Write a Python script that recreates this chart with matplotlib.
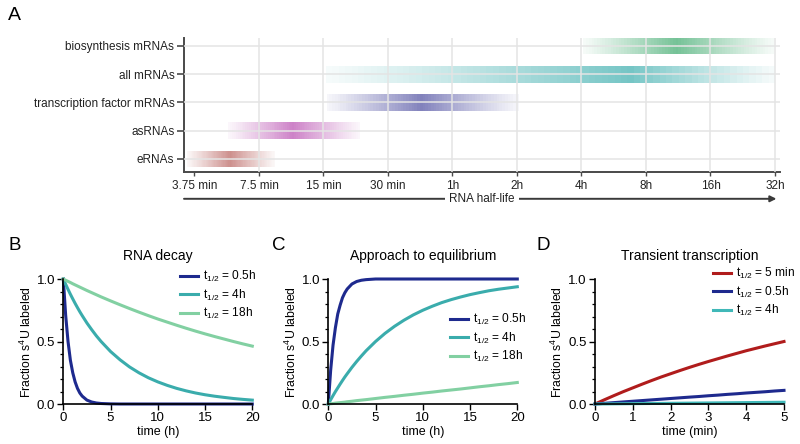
import matplotlib
matplotlib.use("Agg")
import matplotlib.pyplot as plt
import numpy as np
from matplotlib.colors import to_rgb

plt.rcParams['font.family'] = ['Liberation Sans', 'DejaVu Sans']
plt.rcParams['mathtext.fontset'] = 'custom'
plt.rcParams['mathtext.rm'] = 'Liberation Sans'
plt.rcParams['mathtext.it'] = 'Liberation Sans'

# ---------------- Panel A data ----------------
categories = ['eRNAs', 'asRNAs', 'transcription factor mRNAs', 'all mRNAs', 'biosynthesis mRNAs']
hl_start = [3.45, 5.4, 15.5, 15.4, 245]      # minutes
hl_peak = [5.5, 10.8, 43, 404, 668]
hl_end = [8.9, 22.2, 122, 1920, 1890]
band_colors = ['#b8605c', '#b84cb0', '#4c4ca0', '#3aadad', '#3aa86a']
tick_minutes = [3.75, 7.5, 15, 30, 60, 120, 240, 480, 960, 1920]
tick_labels = ['3.75 min', '7.5 min', '15 min', '30 min', '1h', '2h', '4h', '8h', '16h', '32h']

# ---------------- Panel B data ----------------
time_b = [0, 0.25, 0.5, 0.75, 1, 1.25, 1.5, 1.75, 2, 2.5, 3, 3.5, 4, 5, 6, 7, 8, 9, 10,
          11, 12, 13, 14, 15, 16, 17, 18, 19, 20]
decay_05h = [1.0, 0.71, 0.5, 0.35, 0.25, 0.177, 0.125, 0.088, 0.063, 0.031, 0.016, 0.008, 0.004,
             0.001, 0, 0, 0, 0, 0, 0, 0, 0, 0, 0, 0, 0, 0, 0, 0]
decay_4h = [1.0, 0.958, 0.917, 0.878, 0.841, 0.805, 0.771, 0.738, 0.707, 0.648, 0.595, 0.545, 0.5,
            0.42, 0.354, 0.297, 0.25, 0.21, 0.177, 0.149, 0.125, 0.105, 0.088, 0.074, 0.0625,
            0.053, 0.044, 0.037, 0.031]
decay_18h = [1.0, 0.99, 0.981, 0.972, 0.962, 0.953, 0.944, 0.935, 0.926, 0.908, 0.891, 0.874, 0.857,
             0.825, 0.794, 0.764, 0.735, 0.707, 0.68, 0.655, 0.63, 0.606, 0.583, 0.561, 0.54,
             0.52, 0.5, 0.481, 0.463]

# ---------------- Panel C data ----------------
time_c = time_b
eq_05h = [0, 0.27, 0.47, 0.61, 0.72, 0.79, 0.85, 0.89, 0.92, 0.96, 0.98, 0.99, 0.995,
          1, 1, 1, 1, 1, 1, 1, 1, 1, 1, 1, 1, 1, 1, 1, 1]
eq_4h = [0, 0.034, 0.067, 0.099, 0.129, 0.159, 0.188, 0.216, 0.242, 0.293, 0.34, 0.384, 0.426,
         0.5, 0.565, 0.621, 0.67, 0.713, 0.75, 0.782, 0.811, 0.835, 0.856, 0.875, 0.891,
         0.906, 0.918, 0.928, 0.938]
eq_18h = [0, 0.002, 0.004, 0.007, 0.009, 0.011, 0.013, 0.015, 0.018, 0.022, 0.027, 0.031, 0.035,
          0.044, 0.053, 0.061, 0.07, 0.078, 0.087, 0.095, 0.104, 0.112, 0.12, 0.129, 0.138,
          0.146, 0.155, 0.163, 0.172]

# ---------------- Panel D data ----------------
time_d = [0, 0.25, 0.5, 0.75, 1, 1.25, 1.5, 1.75, 2, 2.25, 2.5, 2.75, 3, 3.25, 3.5, 3.75,
          4, 4.25, 4.5, 4.75, 5]
tr_5min = [0, 0.034, 0.067, 0.099, 0.129, 0.159, 0.188, 0.216, 0.242, 0.268, 0.293, 0.317,
           0.34, 0.362, 0.384, 0.405, 0.426, 0.445, 0.464, 0.482, 0.5]
tr_05h = [0, 0.0055, 0.011, 0.0165, 0.022, 0.0275, 0.033, 0.0385, 0.044, 0.0495, 0.055, 0.06,
          0.066, 0.071, 0.077, 0.082, 0.088, 0.093, 0.098, 0.104, 0.109]
tr_4h = [0, 0.0007, 0.0014, 0.0021, 0.0028, 0.0035, 0.0042, 0.0049, 0.0056, 0.0063, 0.007,
         0.0077, 0.0084, 0.0091, 0.0098, 0.0105, 0.0112, 0.0119, 0.0126, 0.0133, 0.014]

c_blue = '#1e2a8e'
c_teal = '#3aacac'
c_green = '#82d0a2'
c_red = '#b01c1c'

fig = plt.figure(figsize=(8, 4.44), dpi=100)

# ================= Panel A =================
axA = fig.add_axes([184 / 800, 1 - 172 / 444, 596 / 800, 134 / 444])
axA.set_xscale('log', base=2)
axA.set_xlim(3.35, 2026)
axA.set_ylim(-0.46, 4.28)

nseg = 70
for i, (s, p, e, col) in enumerate(zip(hl_start, hl_peak, hl_end, band_colors)):
    ls, lp, le = np.log2(s), np.log2(p), np.log2(e)
    edges = np.linspace(ls, le, nseg + 1)
    mids = 0.5 * (edges[:-1] + edges[1:])
    u = np.where(mids < lp, (lp - mids) / (lp - ls), (mids - lp) / (le - lp))
    alpha = 0.70 * (0.06 + 0.94 * (1 - u) ** 1.1)
    rgb = to_rgb(col)
    cols = [(rgb[0], rgb[1], rgb[2], a) for a in alpha]
    lefts = 2 ** edges[:-1]
    widths = 2 ** edges[1:] - lefts
    axA.barh([i] * nseg, widths, left=lefts, height=0.59, color=cols,
             linewidth=0, antialiased=False)

axA.set_axisbelow(False)
axA.set_yticks(range(len(categories)))
axA.set_yticklabels(categories, fontsize=8.5, color='#222222')
axA.set_xticks(tick_minutes)
axA.set_xticklabels(tick_labels, fontsize=8.5, color='#222222')
axA.xaxis.set_minor_locator(matplotlib.ticker.NullLocator())
axA.grid(True, color='#e4e4e4', linewidth=1.1)
axA.xaxis.get_major_ticks()[0].gridline.set_visible(False)
for sp in ['top', 'right']:
    axA.spines[sp].set_visible(False)
for sp in ['left', 'bottom']:
    axA.spines[sp].set_color('#4a4a4a')
    axA.spines[sp].set_linewidth(1.4)
axA.tick_params(axis='y', length=5, width=1.2, color='#4a4a4a', pad=2)
axA.tick_params(axis='x', length=3, width=1.0, color='#4a4a4a', pad=3)

axA.annotate('', xy=(0.994, -0.2), xytext=(0.0, -0.2), xycoords='axes fraction',
             textcoords='axes fraction',
             arrowprops=dict(arrowstyle='-|>', color='#3a3a3a', lw=1.4,
                             mutation_scale=9, shrinkA=0, shrinkB=0),
             annotation_clip=False)
axA.text(0.5, -0.2, 'RNA half-life', transform=axA.transAxes, ha='center', va='center',
         fontsize=8.5, color='#222222', bbox=dict(facecolor='white', edgecolor='none', pad=3))

fig.text(8 / 800, 1 - 15 / 444, 'A', fontsize=14, va='center', ha='left')


# ================= Panels B, C, D =================
def style_axis(ax, xmax, xticks, xlabel):
    ax.set_xlim(0, xmax)
    ax.set_ylim(0, 1)
    ax.set_xticks(xticks)
    ax.set_yticks([0, 0.5, 1.0])
    ax.set_yticklabels(['0.0', '0.5', '1.0'])
    ax.set_yticks(np.arange(0, 1.01, 0.1), minor=True)
    for sp in ['top', 'right']:
        ax.spines[sp].set_visible(False)
    for sp in ['left', 'bottom']:
        ax.spines[sp].set_linewidth(1.2)
    ax.tick_params(axis='both', which='major', length=4, width=1.0, labelsize=9.5, pad=2)
    ax.tick_params(axis='y', which='minor', length=2.5, width=0.9)
    ax.set_xlabel(xlabel, fontsize=9, labelpad=1)
    ax.set_ylabel('Fraction s$^{4}$U labeled', fontsize=8.8, labelpad=2)


def lab(v):
    return r'$\mathregular{t_{1/2}}$ = ' + v


leg_kw = dict(bbox_transform=fig.transFigure, frameon=False, fontsize=8.6,
              handlelength=1.5, handletextpad=0.45, labelspacing=0.28,
              borderpad=0, borderaxespad=0, loc='upper left')

w = 189 / 800
h = 125 / 444
bottom = 1 - 404 / 444

axB = fig.add_axes([63.3 / 800, bottom, w, h])
axB.plot(time_b, decay_05h, color=c_blue, lw=2.2, clip_on=False, label=lab('0.5h'))
axB.plot(time_b, decay_4h, color=c_teal, lw=2.2, clip_on=False, label=lab('4h'))
axB.plot(time_b, decay_18h, color=c_green, lw=2.2, clip_on=False, label=lab('18h'))
style_axis(axB, 20, [0, 5, 10, 15, 20], 'time (h)')
axB.set_title('RNA decay', fontsize=10, pad=14)
axB.legend(bbox_to_anchor=(180 / 800, 1 - 269 / 444), **leg_kw)
fig.text(8 / 800, 1 - 245 / 444, 'B', fontsize=13.5, va='center', ha='left')

axC = fig.add_axes([328.3 / 800, bottom, w, h])
axC.plot(time_c, eq_05h, color=c_blue, lw=2.2, clip_on=False, label=lab('0.5h'))
axC.plot(time_c, eq_4h, color=c_teal, lw=2.2, clip_on=False, label=lab('4h'))
axC.plot(time_c, eq_18h, color=c_green, lw=2.2, clip_on=False, label=lab('18h'))
style_axis(axC, 20, [0, 5, 10, 15, 20], 'time (h)')
axC.set_title('Approach to equilibrium', fontsize=10, pad=14)
axC.legend(bbox_to_anchor=(450 / 800, 1 - 312 / 444), **leg_kw)
fig.text(272 / 800, 1 - 245 / 444, 'C', fontsize=13.5, va='center', ha='left')

axD = fig.add_axes([595 / 800, bottom, w, h])
axD.plot(time_d, tr_5min, color=c_red, lw=2.2, clip_on=False, label=lab('5 min'))
axD.plot(time_d, tr_05h, color=c_blue, lw=2.2, clip_on=False, label=lab('0.5h'))
axD.plot(time_d, tr_4h, color='#40b8b8', lw=2.2, clip_on=False, label=lab('4h'))
style_axis(axD, 5, [0, 1, 2, 3, 4, 5], 'time (min)')
axD.set_title('Transient transcription', fontsize=10, pad=14)
axD.legend(bbox_to_anchor=(713 / 800, 1 - 266 / 444), **leg_kw)
fig.text(537 / 800, 1 - 245 / 444, 'D', fontsize=13.5, va='center', ha='left')

fig.savefig('out.png', dpi=100)
